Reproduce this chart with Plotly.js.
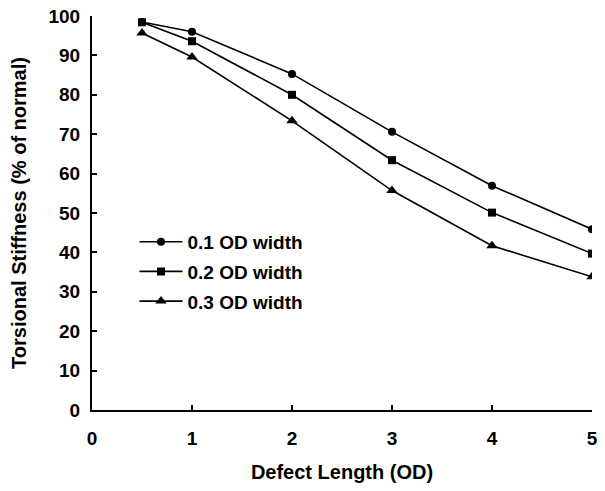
<!DOCTYPE html>
<html>
<head>
<meta charset="utf-8">
<script src="https://cdn.plot.ly/plotly-3.0.1.min.js"></script>
<style>html,body{margin:0;padding:0;background:#fff;}#chart{width:605px;height:491px;}</style>
</head>
<body>
<div id="chart"></div>
<script>
const defectLength = [0.5, 1, 2, 3, 4, 5];
const width01 = [98.5, 96.0, 85.3, 70.6, 56.9, 45.9];
const width02 = [98.4, 93.6, 80.0, 63.4, 50.1, 39.7];
const width03 = [95.7, 89.6, 73.4, 55.7, 41.7, 33.8];
const seriesNames = ["0.1 OD width", "0.2 OD width", "0.3 OD width"];
const xTicks = [0, 1, 2, 3, 4, 5];
const yTicks = [0, 10, 20, 30, 40, 50, 60, 70, 80, 90, 100];

const fam = "Liberation Sans, Arial, sans-serif";
const tickFont = {family: fam, size: 19, color: "#000", weight: "bold"};
const titleFont = {family: fam, size: 20, color: "#000", weight: "bold"};
function tr(y, name, sym, size, grp) {
  return {x: defectLength, y: y, name: name, type: "scatter", mode: "lines+markers",
    legendgroup: grp,
    line: {color: "#000", width: 1.6},
    marker: {symbol: sym, size: size, color: "#000"}};
}
const data = [
  tr(width01, seriesNames[0], "circle", 8, "a"),
  tr(width02, seriesNames[1], "square", 8, "b"),
  tr(width03, seriesNames[2], "triangle-up", 10, "c")
];
const layout = {
  width: 605, height: 491,
  margin: {l: 92, r: 13, t: 16, b: 81},
  paper_bgcolor: "#fff", plot_bgcolor: "#fff",
  font: tickFont,
  showlegend: true,
  legend: {x: 0.085, y: 0.475, xanchor: "left", yanchor: "top", bgcolor: "rgba(0,0,0,0)",
    font: {family: fam, size: 19, color: "#000", weight: "bold"},
    tracegroupgap: 2, itemwidth: 43},
  xaxis: {range: [0, 5], tickvals: xTicks, ticktext: xTicks.map(String),
    showgrid: false, zeroline: false, showline: true, linecolor: "#000", linewidth: 2,
    ticks: "inside", ticklen: 5, tickwidth: 2, tickcolor: "#000",
    ticklabelstandoff: 10,
    tickfont: tickFont,
    title: {text: "Defect Length (OD)", font: titleFont, standoff: 17}},
  yaxis: {range: [0, 100], tickvals: yTicks, ticktext: yTicks.map(String),
    showgrid: false, zeroline: false, showline: true, linecolor: "#000", linewidth: 2,
    ticks: "inside", ticklen: 5, tickwidth: 2, tickcolor: "#000",
    ticklabelstandoff: 6,
    tickfont: tickFont,
    title: {text: "Torsional Stiffness (% of normal)", font: titleFont, standoff: 16}}
};
Plotly.newPlot("chart", data, layout, {displayModeBar: false, staticPlot: true});
</script>
</body>
</html>
